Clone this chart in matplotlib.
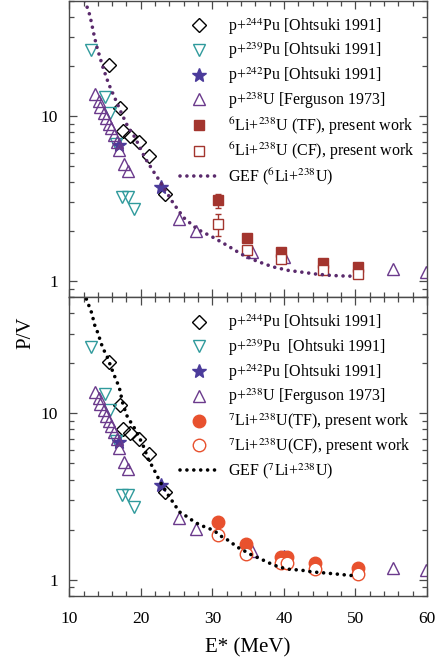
import matplotlib
matplotlib.use("Agg")
import matplotlib.pyplot as plt
from matplotlib.ticker import LogLocator, MultipleLocator, FixedLocator, FixedFormatter, NullFormatter

plt.rcParams['font.family'] = 'Liberation Serif'
plt.rcParams['mathtext.fontset'] = 'stix'

# p+244Pu [Ohtsuki 1991]
pu244_x = [15.6, 17.1, 17.5, 18.5, 19.7, 21.1, 23.4]
pu244_y = [20.3, 11.2, 8.1, 7.6, 7.0, 5.7, 3.35]
# p+239Pu [Ohtsuki 1991]
pu239_x = [13.1, 15.0, 15.7, 16.6, 17.4, 18.2, 19.1]
pu239_y = [25.0, 13.0, 10.5, 6.8, 3.25, 3.25, 2.72]
# p+242Pu [Ohtsuki 1991]
pu242_x = [16.9, 22.8]
pu242_y = [6.7, 3.7]
# p+238U [Ferguson 1973]
u238_x = [13.6, 14.1, 14.3, 14.8, 15.1, 15.5, 15.9, 16.2, 16.7, 16.9, 17.7, 18.2,
          25.4, 27.7, 35.6, 40.0, 55.2, 59.9]
u238_y = [13.5, 12.3, 11.4, 10.5, 9.7, 9.0, 8.4, 7.7, 7.0, 6.2, 5.1, 4.65,
          2.36, 2.01, 1.49, 1.39, 1.18, 1.14]

# 6Li+238U, present work
li6_x = [30.8, 34.9, 39.6, 45.4, 50.3]
li6_tf = [3.08, 1.82, 1.49, 1.28, 1.21]
li6_tf_err = [0.30, 0.04, 0.03, 0.03, 0.03]
li6_cf = [2.2, 1.54, 1.36, 1.17, 1.10]
li6_cf_err = [0.33, 0.04, 0.03, 0.03, 0.03]

# 7Li+238U, present work
li7_x = [30.85, 34.7, 39.6, 40.5, 44.3, 50.3]
li7_tf = [2.22, 1.64, 1.37, 1.37, 1.26, 1.17]
li7_cf = [1.86, 1.43, 1.27, 1.26, 1.16, 1.08]

# GEF calculations
gef6_x = [12.2, 12.9, 13.4, 13.8, 14.7, 15.5, 17.3, 18.2, 19.2, 20.6, 21.9, 22.6,
          24.5, 26.0, 27.9, 30.2, 32.2, 34.1, 36.2, 38.4, 40.6, 42.6, 44.6, 46.7,
          48.9, 50.0]
gef6_y = [50, 40.6, 32, 26.8, 19.8, 15.7, 10.4, 8.6, 7.4, 5.56, 4.52, 4.07,
          2.98, 2.42, 2.06, 1.83, 1.63, 1.45, 1.32, 1.22, 1.16, 1.13, 1.10, 1.08,
          1.07, 1.07]
gef7_x = [12.4, 13.2, 13.5, 14.1, 14.4, 14.8, 15.3, 16.2, 17.0, 17.5, 18.05, 18.7,
          19.4, 20.4, 21.1, 21.7, 22.7, 24.0, 25.4, 26.3, 27.3, 28.3, 29.5, 30.4,
          31.3, 32.4, 33.4, 34.5, 35.5, 36.5, 37.5, 38.5, 39.5, 40.5, 41.6, 42.6,
          43.7, 44.6, 45.7, 46.7, 47.7, 48.6, 49.6]
gef7_y = [48.6, 39.5, 34.4, 29.7, 26.7, 24.2, 21.9, 17.3, 14.3, 11.4, 9.7, 8.7,
          7.8, 6.3, 5.23, 4.73, 3.88, 3.15, 2.56, 2.42, 2.26, 2.13, 2.04, 1.95,
          1.82, 1.71, 1.58, 1.49, 1.41, 1.35, 1.29, 1.23, 1.19, 1.16, 1.15, 1.14,
          1.12, 1.11, 1.10, 1.09, 1.08, 1.07, 1.06]

frame = '#4a4a4a'
c_teal = '#2f9a9c'
c_star = '#4b3b9b'
c_tri = '#6b3a8c'
c_sq = '#a3352e'
c_circ = '#e8512e'


def style_axes(ax, show_xlabels):
    ax.set_yscale('log')
    ax.set_xlim(10, 60)
    ax.set_ylim(0.8, 50)
    ax.xaxis.set_major_locator(MultipleLocator(10))
    ax.xaxis.set_minor_locator(MultipleLocator(2))
    ax.yaxis.set_major_locator(FixedLocator([1, 10]))
    ax.yaxis.set_major_formatter(FixedFormatter(['1', '10']))
    ax.yaxis.set_minor_locator(LogLocator(base=10, subs=range(2, 10)))
    ax.yaxis.set_minor_formatter(NullFormatter())
    ax.tick_params(which='both', direction='in', top=True, right=True,
                   color=frame, labelsize=12.5)
    ax.tick_params(which='major', length=6, width=0.9)
    ax.tick_params(which='minor', length=3.5, width=0.9)
    ax.tick_params(axis='x', pad=11)
    ax.tick_params(axis='y', pad=8)
    if not show_xlabels:
        ax.tick_params(axis='x', labelbottom=False)
    for s in ax.spines.values():
        s.set_color(frame)
        s.set_linewidth(1.0)


def plot_common(ax, pu239_label):
    h = []
    h += ax.plot(pu244_x, pu244_y, 'D', ms=7, mfc='none', mec='black', mew=1.0,
                 label=r'p+$^{244}$Pu [Ohtsuki 1991]')
    h += ax.plot(pu239_x, pu239_y, 'v', ms=9, mfc='none', mec=c_teal, mew=1.0,
                 label=pu239_label)
    h += ax.plot(pu242_x, pu242_y, '*', ms=10, color=c_star,
                 label=r'p+$^{242}$Pu [Ohtsuki 1991]')
    h += ax.plot(u238_x, u238_y, '^', ms=9, mfc='none', mec=c_tri, mew=1.0,
                 label=r'p+$^{238}$U [Ferguson 1973]')
    return h


def add_legend(ax, handles):
    ax.legend(handles=handles, loc='upper left', bbox_to_anchor=(0.31, 0.948),
              frameon=False, fontsize=11.5, handlelength=2.4, handletextpad=0.6,
              labelspacing=0.26, borderpad=0, borderaxespad=0, numpoints=1)


fig = plt.figure(figsize=(4.38, 6.65), dpi=100)
ax1 = fig.add_axes([0.158, 0.5534, 0.817, 0.4456])
ax2 = fig.add_axes([0.158, 0.1038, 0.817, 0.4496])

# top panel: 6Li
h1 = plot_common(ax1, r'p+$^{239}$Pu [Ohtsuki 1991]')
ax1.errorbar(li6_x, li6_tf, yerr=li6_tf_err, fmt='none', ecolor=c_sq,
             elinewidth=1, capsize=2)
ax1.errorbar(li6_x, li6_cf, yerr=li6_cf_err, fmt='none', ecolor=c_sq,
             elinewidth=1, capsize=2)
h1 += ax1.plot(li6_x, li6_tf, 's', ms=7, color=c_sq,
               label=r'$^{6}$Li+$^{238}$U (TF), present work')
h1 += ax1.plot(li6_x, li6_cf, 's', ms=7, mfc='white', mec=c_sq, mew=1.0,
               label=r'$^{6}$Li+$^{238}$U (CF), present work')
h1 += ax1.plot(gef6_x, gef6_y, color='#5a2a6c', lw=2.6, dashes=(0.01, 1.9),
               dash_capstyle='round', label=r'GEF ($^{6}$Li+$^{238}$U)')
style_axes(ax1, False)
add_legend(ax1, h1)

# bottom panel: 7Li
h2 = plot_common(ax2, r'p+$^{239}$Pu  [Ohtsuki 1991]')
h2 += ax2.plot(li7_x, li7_tf, 'o', ms=9, color=c_circ,
               label=r'$^{7}$Li+$^{238}$U(TF), present work')
h2 += ax2.plot(li7_x, li7_cf, 'o', ms=9, mfc='white', mec=c_circ, mew=1.0,
               label=r'$^{7}$Li+$^{238}$U(CF), present work')
h2 += ax2.plot(gef7_x, gef7_y, color='black', lw=2.6, dashes=(0.01, 1.9),
               dash_capstyle='round', label=r'GEF ($^{7}$Li+$^{238}$U)')
style_axes(ax2, True)
add_legend(ax2, h2)

ax2.set_xlabel('E* (MeV)', fontsize=15, labelpad=8)
fig.text(0.06, 0.5, 'P/V', rotation=90, fontsize=15, ha='center', va='center')

fig.savefig('out.png', dpi=100)
